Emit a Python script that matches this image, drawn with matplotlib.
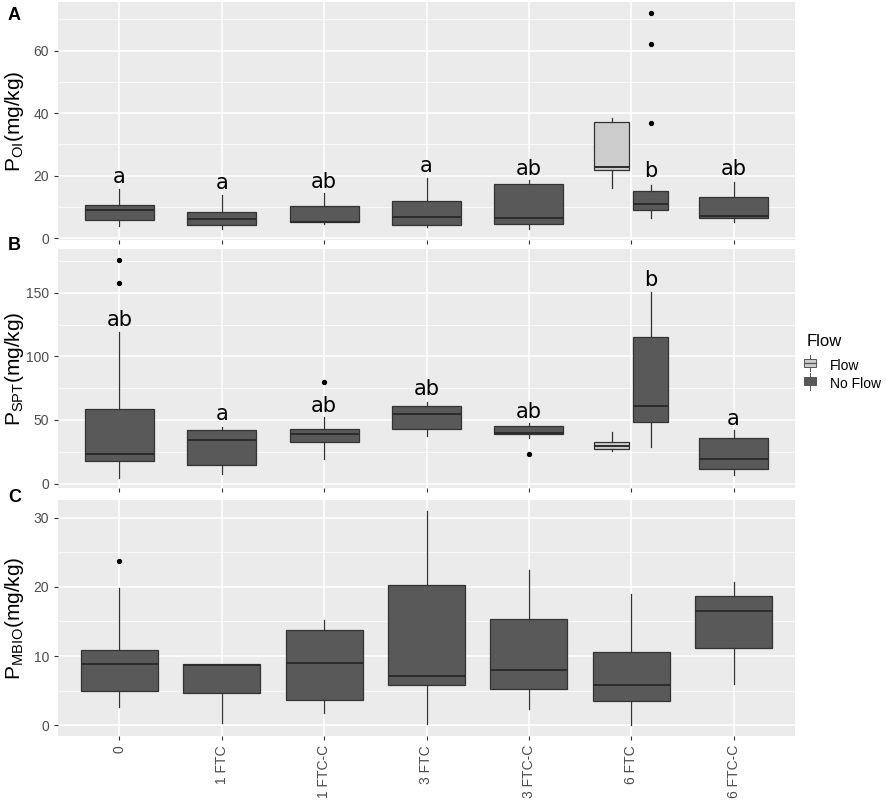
import matplotlib
matplotlib.use('Agg')
import matplotlib.pyplot as plt
from matplotlib.patches import Patch, Rectangle
from matplotlib.lines import Line2D
from matplotlib.legend_handler import HandlerBase
from matplotlib.ticker import MultipleLocator

plt.rcParams['font.family'] = ['Liberation Sans', 'DejaVu Sans']

categories = ["0", "1 FTC", "1 FTC-C", "3 FTC", "3 FTC-C", "6 FTC", "6 FTC-C"]

# panel A, P_OI, "No Flow" boxes
oi_q1 = [5.8, 4.2, 5.2, 4.2, 4.6, 9.0, 6.4]
oi_med = [9.2, 6.1, 5.4, 6.8, 6.6, 11.0, 7.1]
oi_q3 = [10.8, 8.6, 10.5, 11.8, 17.4, 15.1, 13.3]
oi_lo = [3.9, 2.9, 4.7, 3.8, 3.0, 6.5, 5.4]
oi_hi = [15.9, 14.0, 14.5, 19.4, 18.8, 17.2, 18.0]
oi_out = [[], [], [], [], [], [72.1, 62.2, 37.0], []]
# "Flow" box (6 FTC only): q1, med, q3, lo, hi
oi_flow = [22.0, 22.8, 37.2, 16.2, 38.4]
oi_letters = ["a", "a", "ab", "a", "ab", "b", "ab"]
oi_letter_y = [19.6, 17.7, 18.0, 23.1, 22.3, 21.5, 22.1]

# panel B, P_SPT
spt_q1 = [17.6, 14.4, 32.6, 42.6, 39.2, 48.4, 11.5]
spt_med = [23.1, 34.2, 38.9, 54.5, 39.6, 61.3, 19.2]
spt_q3 = [58.6, 42.3, 42.9, 61.3, 45.2, 115.5, 36.0]
spt_lo = [4.7, 7.9, 19.7, 37.3, 35.5, 28.4, 7.1]
spt_hi = [118.9, 44.7, 52.6, 64.4, 47.4, 150.4, 42.1]
spt_out = [[176.0, 158.1], [], [80.2], [], [22.9], [], []]
spt_flow = [26.8, 29.4, 32.6, 25.5, 40.5]
spt_letters = ["ab", "a", "ab", "ab", "ab", "b", "a"]
spt_letter_y = [128.9, 54.7, 61.3, 74.2, 56.0, 160.5, 50.8]

# panel C, P_MBIO (no flow split)
mbio_q1 = [5.0, 4.6, 3.6, 5.8, 5.2, 3.5, 11.2]
mbio_med = [8.8, 8.7, 9.0, 7.1, 8.0, 5.8, 16.5]
mbio_q3 = [10.9, 8.8, 13.7, 20.2, 15.3, 10.6, 18.7]
mbio_lo = [2.6, 0.4, 1.8, 0.2, 2.4, 0.1, 6.0]
mbio_hi = [19.8, 8.8, 15.2, 31.0, 22.5, 19.0, 20.7]
mbio_out = [[23.7], [], [], [], [], [], []]

DARK = '#595959'
LIGHT = '#cccccc'
EDGE = '#333333'
BG = '#ebebeb'


def stats(q1, med, q3, lo, hi, out):
    return dict(q1=q1, med=med, q3=q3, whislo=lo, whishi=hi, fliers=out)


def draw(ax, q1, med, q3, lo, hi, out, flow=None, width=0.675):
    st, pos, wid, fill = [], [], [], []
    for i in range(len(categories)):
        s = stats(q1[i], med[i], q3[i], lo[i], hi[i], out[i])
        if flow is not None and categories[i] == "6 FTC":
            st += [stats(*flow, []), s]
            pos += [i - 0.19, i + 0.19]
            wid += [0.34, 0.34]
            fill += [LIGHT, DARK]
        else:
            st.append(s)
            pos.append(i)
            wid.append(width)
            fill.append(DARK)
    bp = ax.bxp(st, positions=pos, widths=wid, patch_artist=True, showcaps=False,
                boxprops=dict(edgecolor=EDGE, linewidth=0.9),
                medianprops=dict(color='#2b2b2b', linewidth=1.4),
                whiskerprops=dict(color=EDGE, linewidth=0.9),
                flierprops=dict(marker='o', markersize=2.8, markerfacecolor='black',
                                markeredgecolor='black'))
    for b, c in zip(bp['boxes'], fill):
        b.set_facecolor(c)


def style(ax, ylim, major, minor):
    ax.set_facecolor(BG)
    ax.set_xlim(-0.6, len(categories) - 0.4)
    ax.set_ylim(*ylim)
    ax.yaxis.set_major_locator(MultipleLocator(major))
    ax.yaxis.set_minor_locator(MultipleLocator(minor))
    ax.set_xticks(range(len(categories)))
    ax.grid(which='major', color='white', linewidth=1.1)
    ax.grid(which='minor', axis='y', color='white', linewidth=0.5)
    ax.set_axisbelow(True)
    for s in ax.spines.values():
        s.set_visible(False)
    ax.tick_params(which='major', length=3, width=0.8, color='#333333',
                   labelsize=10, labelcolor='#4d4d4d')
    ax.tick_params(which='minor', length=0)
    ax.yaxis.set_label_coords(-0.043, 0.5)


class BoxKey(HandlerBase):
    # small boxplot glyph like ggplot's legend key
    def create_artists(self, legend, orig, x0, y0, w, h, fontsize, trans):
        cx = x0 + w / 2
        box = Rectangle((x0, y0 + h * 0.15), w, h * 0.7, facecolor=orig.get_facecolor(),
                        edgecolor='#555555', linewidth=0.7, transform=trans)
        wl = Line2D([cx, cx], [y0 - h * 0.2, y0 + h * 1.2], color='#555555',
                    linewidth=0.7, transform=trans)
        md = Line2D([x0, x0 + w], [y0 + h * 0.5] * 2, color='#555555',
                    linewidth=0.9, transform=trans)
        return [wl, box, md]


fig = plt.figure(figsize=(8.86, 8.02), dpi=100)
left, width = 58 / 886, 737 / 886
axA = fig.add_axes([left, 1 - 240 / 802, width, 238 / 802])
axB = fig.add_axes([left, 1 - 488 / 802, width, 239 / 802])
axC = fig.add_axes([left, 1 - 736 / 802, width, 236 / 802])

draw(axA, oi_q1, oi_med, oi_q3, oi_lo, oi_hi, oi_out, flow=oi_flow)
style(axA, (-0.5, 75.5), 20, 10)
axA.set_xticklabels([])
axA.set_ylabel(r'P$_{\mathregular{OI}}$(mg/kg)', fontsize=15)

draw(axB, spt_q1, spt_med, spt_q3, spt_lo, spt_hi, spt_out, flow=spt_flow)
style(axB, (-3.5, 184.5), 50, 25)
axB.set_xticklabels([])
axB.set_ylabel(r'P$_{\mathregular{SPT}}$(mg/kg)', fontsize=15)

draw(axC, mbio_q1, mbio_med, mbio_q3, mbio_lo, mbio_hi, mbio_out, width=0.75)
style(axC, (-1.55, 32.55), 10, 5)
axC.set_xticklabels(categories, rotation=90, ha='center', va='top')
axC.set_ylabel(r'P$_{\mathregular{MBIO}}$(mg/kg)', fontsize=15)

for ax, letters, ly in [(axA, oi_letters, oi_letter_y), (axB, spt_letters, spt_letter_y)]:
    for i, (t, y) in enumerate(zip(letters, ly)):
        x = i + 0.19 if categories[i] == "6 FTC" else i
        ax.text(x, y, t, ha='center', va='center', fontsize=15, color='black',
                family='DejaVu Sans')

for lab, yy in [('A', 15), ('B', 246), ('C', 497)]:
    fig.text(8 / 886, 1 - yy / 802, lab, fontsize=13, fontweight='bold', va='center')

# legend title drawn apart so the gap under it matches ggplot
fig.text(807 / 886, 1 - 342 / 802, 'Flow', fontsize=12, va='center', ha='left')
handles = [Patch(facecolor=LIGHT, label='Flow'),
           Patch(facecolor=DARK, label='No Flow')]
leg = fig.legend(handles=handles, loc='upper left',
                 bbox_to_anchor=(804 / 886, 1 - 359 / 802), frameon=False,
                 fontsize=10, handlelength=0.85, handleheight=0.9,
                 handletextpad=1.0, labelspacing=0.3, borderaxespad=0.0,
                 borderpad=0.0, handler_map={Patch: BoxKey()})

fig.savefig('out.png', dpi=100)
